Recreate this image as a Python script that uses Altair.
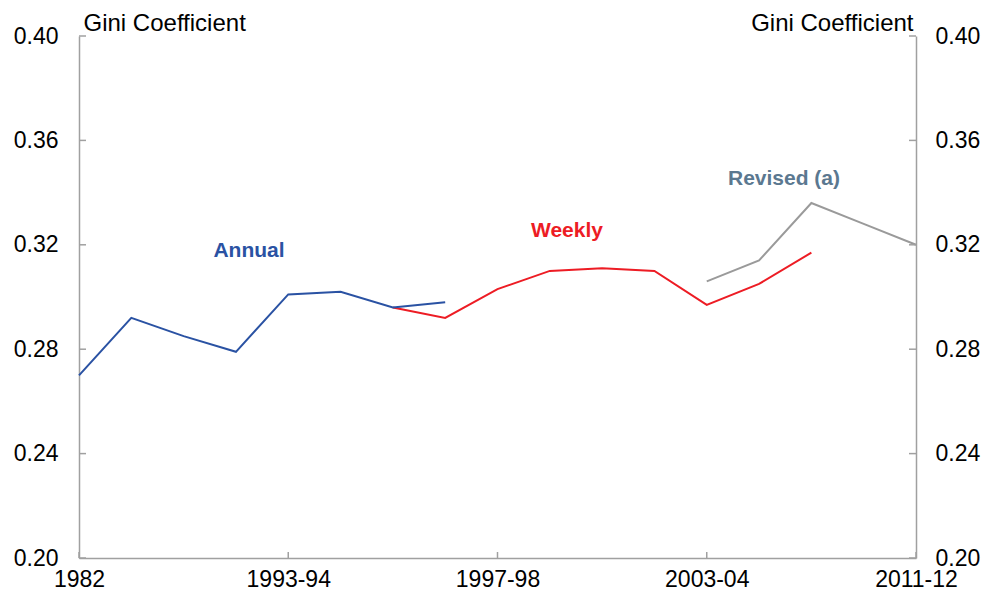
import altair as alt
import pandas as pd

categories = ["1982", "1986", "1990", "1990-91", "1993-94", "1994-95", "1995-96",
              "1996-97", "1997-98", "1999-00", "2000-01", "2002-03", "2003-04",
              "2005-06", "2007-08", "2009-10", "2011-12"]
x_tick_labels = ["1982", "1993-94", "1997-98", "2003-04", "2011-12"]
y_ticks = [0.20, 0.24, 0.28, 0.32, 0.36, 0.40]

annual_periods = categories[0:8]
annual_values = [0.270, 0.292, 0.285, 0.279, 0.301, 0.302, 0.296, 0.298]
weekly_periods = categories[6:15]
weekly_values = [0.296, 0.292, 0.303, 0.310, 0.311, 0.310, 0.297, 0.305, 0.317]
revised_periods = categories[12:17]
revised_values = [0.306, 0.314, 0.336, 0.328, 0.320]

series_names = ["Weekly", "Revised (a)", "Annual"]
series_colors = ["#ED1C24", "#9A9A9A", "#2A52A3"]

rows = []
for p, v in zip(weekly_periods, weekly_values):
    rows.append({"series": "Weekly", "period": p, "value": v})
for p, v in zip(revised_periods, revised_values):
    rows.append({"series": "Revised (a)", "period": p, "value": v})
for p, v in zip(annual_periods, annual_values):
    rows.append({"series": "Annual", "period": p, "value": v})
df = pd.DataFrame(rows)
df_ticks_y = pd.DataFrame({"v": y_ticks})
df_ticks_x = pd.DataFrame({"period": x_tick_labels})

W, H = 837, 522
FONT = "Liberation Sans"
AX = "#A0A0A0"

xscale = alt.Scale(type="point", padding=0, domain=categories)
yscale = alt.Scale(domain=[0.2, 0.4], nice=False, zero=False)

x_axis = alt.Axis(values=x_tick_labels, title=None, ticks=False, tickSize=0,
                  labelPadding=10, labelAngle=0, labelOverlap=False,
                  labelFlush=False, grid=False, domain=True)

def x_enc():
    return alt.X("period:N", scale=xscale, sort=categories, axis=x_axis)

lines = alt.Chart(df).mark_line(strokeWidth=2).encode(
    x=x_enc(),
    y=alt.Y("value:Q", scale=yscale,
            axis=alt.Axis(orient="left", values=y_ticks, format=".2f", ticks=False,
                          tickSize=0, labelPadding=21, grid=False,
                          title="Gini Coefficient", titleAngle=0, titleAlign="left",
                          titleBaseline="alphabetic", titleX=4, titleY=-6)),
    color=alt.Color("series:N", scale=alt.Scale(domain=series_names, range=series_colors),
                    legend=None),
    order=alt.Order("period:N"),
)

right_ticks = alt.Chart(df_ticks_y).mark_rule(color=AX, strokeWidth=1.5).encode(
    y=alt.Y("v:Q", scale=yscale,
            axis=alt.Axis(orient="right", values=y_ticks, format=".2f", ticks=False,
                          tickSize=0, labelPadding=19, grid=False,
                          title="Gini Coefficient", titleAngle=0, titleAlign="right",
                          titleBaseline="alphabetic", titleX=-3, titleY=-6)),
    x=alt.value(W - 7), x2=alt.value(W),
)

left_ticks = alt.Chart(df_ticks_y).mark_rule(color=AX, strokeWidth=1.5).encode(
    y=alt.Y("v:Q", scale=yscale, axis=None),
    x=alt.value(0), x2=alt.value(7),
)

x_ticks = alt.Chart(df_ticks_x).mark_rule(color=AX, strokeWidth=1.5).encode(
    x=x_enc(),
    y=alt.value(H - 6), y2=alt.value(H),
)

def label(text, color, x, y):
    return alt.Chart(pd.DataFrame({"t": [text]})).mark_text(
        font=FONT, fontSize=21, fontWeight="bold", color=color,
        align="center", baseline="middle"
    ).encode(text="t:N", x=alt.value(x), y=alt.value(y))

labels = (label("Annual", "#2A52A3", 170, 215)
          + label("Weekly", "#ED1C24", 488, 195)
          + label("Revised (a)", "#5B7890", 705, 143))

chart = alt.layer(lines, x_ticks, left_ticks, right_ticks, labels).resolve_scale(
    y="shared", x="shared"
).resolve_axis(y="independent").properties(
    width=W, height=H,
    autosize=alt.AutoSizeParams(type="none"),
    padding={"left": 71, "top": 28, "right": 66, "bottom": 35},
).configure_view(stroke=None).configure_axis(
    domainColor=AX, domainWidth=1.5,
    labelFont=FONT, labelFontSize=23, labelColor="#000000",
    titleFont=FONT, titleFontSize=24, titleFontWeight="normal", titleColor="#000000",
)

chart.save("out.html", embed_options={"renderer": "svg", "actions": False})
